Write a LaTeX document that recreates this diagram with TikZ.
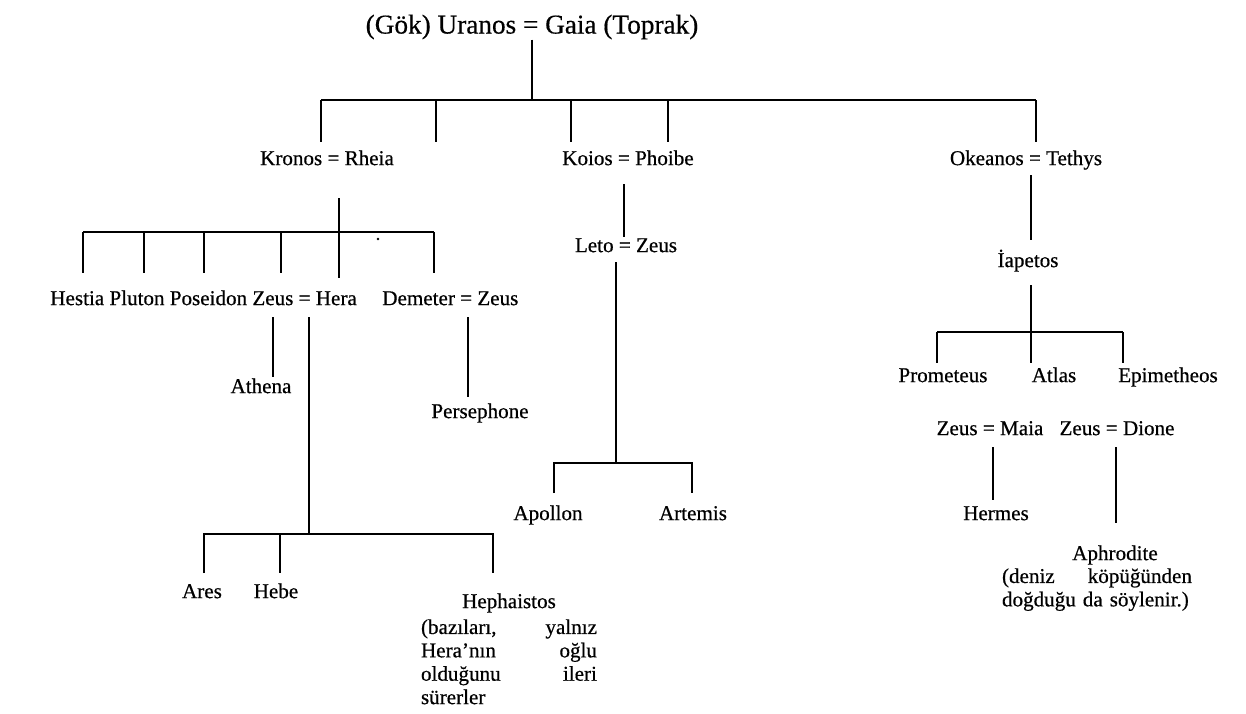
\documentclass[tikz,border=0pt]{standalone}
\usepackage{fontspec}
\setmainfont{Liberation Serif}[FakeBold=0.5]
\usepackage{tikz}

\begin{document}
\begin{tikzpicture}[x=0.02cm,y=-0.02cm,
        every node/.style={inner sep=0pt,font=\fontsize{12}{13.3}\selectfont},
        person/.style={text height=8.4pt,text depth=2.6pt},
        link/.style={line width=1.1pt},
        note/.style={anchor=north,align=left}]
        \useasboundingbox (0,0) rectangle (1246,713);
        % Uranos = Gaia
        \node (uranos) at (532,27) {\fontsize{15.5}{18}\selectfont (Gök) Uranos = Gaia (Toprak)};
        \coordinate (ubar) at (532,100);
        \draw[link] (uranos) -- (ubar);
        \foreach \x [count=\i] in {321,436,571,668,1036} {
            \coordinate (u\i) at (\x,100);
            \coordinate (uend\i) at (\x,142);
            \draw[link] (u\i) -- (uend\i);
        }
        \draw[link] (u1) -- (u5);
        \node[person] (kronos) at (327,160) {Kronos = Rheia};
        \node[person] (koios) at (628,160) {Koios = Phoibe};
        \node[person] (okeanos) at (1026,160) {Okeanos = Tethys};

        % Kronos = Rheia
        \coordinate (ktop) at (339,198);
        \foreach \x/\y [count=\i] in {83/273,144/273,204/273,281/273,339/278,434/273} {
            \coordinate (k\i) at (\x,232);
            \coordinate (kend\i) at (\x,\y);
            \draw[link] (k\i) -- (kend\i);
        }
        \draw[link] (ktop) -- (k5);
        \draw[link] (k1) -- (k6);
        \fill (378,239) circle (0.8pt);
        \node[person,anchor=west] (kronoskids) at (50,300) {Hestia Pluton Poseidon Zeus = Hera};
        \node[person,anchor=west] (demeter) at (382,300) {Demeter = Zeus};

        % Zeus = Hera, Demeter = Zeus
        \coordinate (ath1) at (273,317);
        \coordinate (ath2) at (273,377);
        \draw[link] (ath1) -- (ath2);
        \node[person] (athena) at (261,388) {Athena};
        \coordinate (per1) at (468,317);
        \coordinate (per2) at (468,397);
        \draw[link] (per1) -- (per2);
        \node[person] (persephone) at (480,413) {Persephone};
        \coordinate (hera) at (309,317);
        \foreach \x/\y [count=\i] in {204/573,280/573,309/534,493/573} {
            \coordinate (h\i) at (\x,534);
            \coordinate (hend\i) at (\x,\y);
        }
        \draw[link] (hera) -- (h3);
        \draw[link] (hend1) -- (h1) -- (h4) -- (hend4);
        \draw[link] (h2) -- (hend2);
        \node[person] (ares) at (202,593) {Ares};
        \node[person] (hebe) at (276,593) {Hebe};
        \node[person] (hephaistos) at (509,603) {Hephaistos};
        \node[note,text width=3.52cm] (hephnote) at (509,619)
            {(bazıları,\hfill yalnız\\Hera’nın\hfill oğlu\\olduğunu\hfill ileri\\sürerler};

        % Koios = Phoibe
        \coordinate (ko1) at (624,184);
        \node[person] (leto) at (626,247) {Leto = Zeus};
        \draw[link] (ko1) -- (ko1 |- leto.north);
        \coordinate (le1) at (616,262);
        \coordinate (lbar) at (616,463);
        \draw[link] (le1) -- (lbar);
        \foreach \x [count=\i] in {554,692} {
            \coordinate (l\i) at (\x,463);
            \coordinate (lend\i) at (\x,493);
        }
        \draw[link] (lend1) -- (l1) -- (l2) -- (lend2);
        \node[person] (apollon) at (548,515) {Apollon};
        \node[person] (artemis) at (693,515) {Artemis};

        % Okeanos = Tethys
        \coordinate (ok1) at (1031,175);
        \coordinate (ok2) at (1031,240);
        \draw[link] (ok1) -- (ok2);
        \node[person] (iapetos) at (1028,262) {İapetos};
        \coordinate (ia1) at (1031,285);
        \foreach \x [count=\i] in {937,1031,1123} {
            \coordinate (i\i) at (\x,332);
            \coordinate (iend\i) at (\x,363);
            \draw[link] (i\i) -- (iend\i);
        }
        \draw[link] (ia1) -- (i2);
        \draw[link] (i1) -- (i3);
        \node[person] (prometeus) at (943,377) {Prometeus};
        \node[person] (atlas) at (1054,377) {Atlas};
        \node[person] (epimetheos) at (1168,377) {Epimetheos};

        % Zeus = Maia, Zeus = Dione
        \node[person] (maia) at (990,430) {Zeus = Maia};
        \node[person] (dione) at (1117,430) {Zeus = Dione};
        \coordinate (ma1) at (993,447);
        \coordinate (ma2) at (993,500);
        \draw[link] (ma1) -- (ma2);
        \coordinate (di1) at (1116,447);
        \coordinate (di2) at (1116,523);
        \draw[link] (di1) -- (di2);
        \node[person] (hermes) at (996,515) {Hermes};
        \node[person] (aphrodite) at (1115,555) {Aphrodite};
        \node[note,text width=3.8cm] (aphnote) at (1097,568)
            {(deniz\hfill köpüğünden\\doğduğu da söylenir.)};
\end{tikzpicture}
\end{document}
